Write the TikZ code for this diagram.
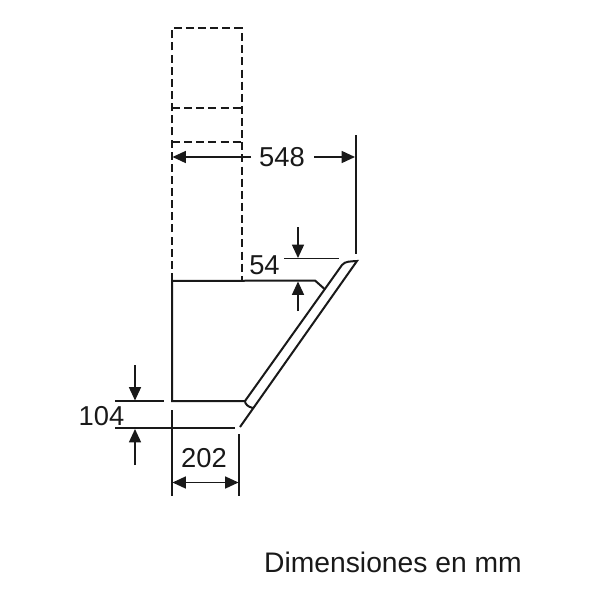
\documentclass[tikz,border=0pt]{standalone}
\usepackage{fontspec}
\setmainfont{Liberation Sans}
\usetikzlibrary{arrows.meta}
\tikzset{
  outline/.style={line width=1.5pt,black!90},
  hidden/.style={line width=1.5pt,black!90,dash pattern=on 6pt off 3.1pt},
  extline/.style={line width=1.25pt,black!90},
  dimarrow/.style={line width=1.05pt,black!90,-{Triangle[length=10pt,width=9pt]}},
  dimtext/.style={inner sep=0pt,font=\fontsize{20.5pt}{24pt}\selectfont,text=black!90},
}
\begin{document}
\begin{tikzpicture}[x=0.75pt,y=-0.75pt]
\useasboundingbox (0,0) rectangle (600,600);
% key points
\coordinate (dTL) at (172,28);
\coordinate (dTR) at (241.5,28);
\coordinate (dBL) at (172,281);
\coordinate (dBR) at (241.5,281);
\coordinate (bodyTR) at (315,280.5);
\coordinate (bodyKink) at (324,288.5);
\coordinate (bodyBL) at (172,401);
\coordinate (bodyBR) at (245,401);
\coordinate (panelTop) at (357,261);
\coordinate (panelBot) at (240,427);
% hidden chimney
\draw[hidden] (dBL) -- (dTL) -- (dTR) -- (dBR);
\draw[hidden] (172,108) -- (241.5,108);
\draw[hidden] (172,142) -- (241.5,142);
% body
\draw[outline] (bodyBR) -- (bodyBL) -- (dBL) -- (bodyTR) -- (bodyKink);
% glass panel
\draw[outline] (panelBot) -- (panelTop) .. controls (351,261.5) and (345,261) .. (342,265) -- (bodyBR)
  .. controls (245,404) and (248,407) .. (253,408);
% 548
\coordinate (e548t) at (356,135);
\coordinate (e548b) at (356,254);
\draw[extline] (e548t) -- (e548b);
\node[dimtext] (t548) at (282,157) {548};
\coordinate (a548l) at (172.5,157);
\coordinate (a548r) at (355,157);
\draw[dimarrow] (251,157) -- (a548l);
\draw[dimarrow] (314,157) -- (a548r);
% 54
\coordinate (e54a) at (284,258.5);
\coordinate (e54b) at (339,258.5);
\draw[extline] (e54a) -- (e54b);
\node[dimtext] (t54) at (264.5,265) {54};
\draw[dimarrow] (298,227) -- (298,258);
\draw[dimarrow] (298,311) -- (298,281.5);
% 104
\coordinate (e104a) at (115,401);
\coordinate (e104b) at (164,401);
\coordinate (e104c) at (115,428);
\coordinate (e104d) at (235,428);
\draw[extline] (e104a) -- (e104b);
\draw[extline] (e104c) -- (e104d);
\node[dimtext] (t104) at (101.5,416.5) {104};
\draw[dimarrow] (135,365) -- (135,400.5);
\draw[dimarrow] (135,465) -- (135,429);
% 202
\coordinate (e202a) at (172,410);
\coordinate (e202b) at (172,496);
\coordinate (e202c) at (239,434);
\coordinate (e202d) at (239,496);
\draw[extline] (e202a) -- (e202b);
\draw[extline] (e202c) -- (e202d);
\node[dimtext] (t202) at (204,458.5) {202};
\draw[dimarrow] (205,482.5) -- (172.5,482.5);
\draw[dimarrow] (205,482.5) -- (238.5,482.5);
% caption
\node[dimtext,font=\fontsize{21.2pt}{24pt}\selectfont] (cap) at (393,562) {Dimensiones en mm};
\end{tikzpicture}
\end{document}
